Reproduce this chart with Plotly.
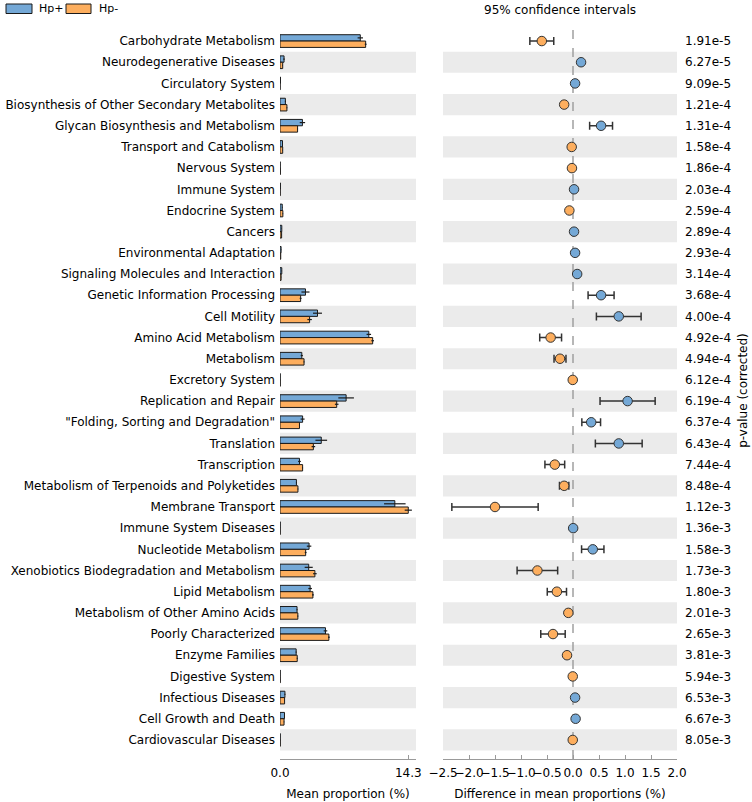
import numpy as np
import plotly.graph_objects as go

categories = [
    "Carbohydrate Metabolism", "Neurodegenerative Diseases", "Circulatory System",
    "Biosynthesis of Other Secondary Metabolites", "Glycan Biosynthesis and Metabolism",
    "Transport and Catabolism", "Nervous System", "Immune System", "Endocrine System",
    "Cancers", "Environmental Adaptation", "Signaling Molecules and Interaction",
    "Genetic Information Processing", "Cell Motility", "Amino Acid Metabolism",
    "Metabolism", "Excretory System", "Replication and Repair",
    "\"Folding, Sorting and Degradation\"", "Translation", "Transcription",
    "Metabolism of Terpenoids and Polyketides", "Membrane Transport",
    "Immune System Diseases", "Nucleotide Metabolism",
    "Xenobiotics Biodegradation and Metabolism", "Lipid Metabolism",
    "Metabolism of Other Amino Acids", "Poorly Characterized", "Enzyme Families",
    "Digestive System", "Infectious Diseases", "Cell Growth and Death",
    "Cardiovascular Diseases",
]
hp_pos_mean = [8.95, 0.45, 0.05, 0.60, 2.50, 0.28, 0.02, 0.04, 0.25, 0.20, 0.12, 0.20,
               2.84, 4.18, 9.90, 2.43, 0.02, 7.37, 2.52, 4.60, 2.17, 1.83, 12.80, 0.02,
               3.24, 3.20, 3.36, 1.90, 5.07, 1.80, 0.02, 0.55, 0.50, 0.02]
hp_neg_mean = [9.55, 0.30, 0.01, 0.77, 1.96, 0.30, 0.04, 0.02, 0.32, 0.18, 0.08, 0.12,
               2.30, 3.30, 10.33, 2.68, 0.025, 6.32, 2.17, 3.72, 2.52, 2.00, 14.30, 0.02,
               2.86, 3.89, 3.67, 1.99, 5.45, 1.92, 0.025, 0.51, 0.45, 0.025]
hp_pos_err = [0.3, 0.08, 0.01, 0.05, 0.3, 0.03, 0.01, 0.01, 0.03, 0.02, 0.02, 0.03,
              0.45, 0.5, 0.25, 0.12, 0.005, 0.87, 0.22, 0.65, 0.15, 0.05, 1.2, 0.005,
              0.25, 0.45, 0.2, 0.05, 0.2, 0.05, 0.005, 0.05, 0.05, 0.005]
hp_neg_err = [0.1, 0.03, 0.005, 0.05, 0.05, 0.03, 0.005, 0.005, 0.03, 0.02, 0.01, 0.02,
              0.1, 0.25, 0.15, 0.05, 0.005, 0.2, 0.05, 0.2, 0.05, 0.05, 0.4, 0.005,
              0.1, 0.2, 0.1, 0.05, 0.1, 0.05, 0.005, 0.03, 0.03, 0.005]
diff_mean = [-0.60, 0.155, 0.04, -0.17, 0.54, -0.025, -0.02, 0.02, -0.07, 0.02, 0.04, 0.08,
             0.54, 0.88, -0.43, -0.25, -0.005, 1.05, 0.35, 0.88, -0.35, -0.17, -1.50, 0.003,
             0.38, -0.685, -0.31, -0.09, -0.385, -0.115, -0.005, 0.04, 0.05, -0.005]
diff_ci = [0.23, 0.02, 0.01, 0.035, 0.22, 0.01, 0.01, 0.01, 0.015, 0.01, 0.01, 0.015,
           0.25, 0.43, 0.21, 0.115, 0.005, 0.53, 0.18, 0.45, 0.19, 0.09, 0.83, 0.005,
           0.215, 0.39, 0.185, 0.03, 0.235, 0.04, 0.005, 0.01, 0.01, 0.005]
p_values = ["1.91e-5", "6.27e-5", "9.09e-5", "1.21e-4", "1.31e-4", "1.58e-4", "1.86e-4",
            "2.03e-4", "2.59e-4", "2.89e-4", "2.93e-4", "3.14e-4", "3.68e-4", "4.00e-4",
            "4.92e-4", "4.94e-4", "6.12e-4", "6.19e-4", "6.37e-4", "6.43e-4", "7.44e-4",
            "8.48e-4", "1.12e-3", "1.36e-3", "1.58e-3", "1.73e-3", "1.80e-3", "2.01e-3",
            "2.65e-3", "3.81e-3", "5.94e-3", "6.53e-3", "6.67e-3", "8.05e-3"]
group_names = ["Hp+", "Hp-"]
left_ticks = [0.0, 14.3]
right_ticks = [-2.5, -2.0, -1.5, -1.0, -0.5, 0.0, 0.5, 1.0, 1.5, 2.0]

BLUE = "#74a8d6"
ORANGE = "#fdae5e"
BAND = "#ebebeb"
AXC = "#9a9a9a"
FONT = "DejaVu Sans"

W, H = 752, 802
T, B = 22, 43
n = len(categories)
idx = list(range(n))

fig = go.Figure()
fig.add_trace(go.Bar(
    y=idx, x=hp_pos_mean, orientation="h", name=group_names[0],
    marker=dict(color=BLUE, line=dict(color="#1a1a1a", width=1)),
    error_x=dict(type="data", array=hp_pos_err, color="#1a1a1a", thickness=1.2, width=0),
    xaxis="x", yaxis="y", showlegend=False))
fig.add_trace(go.Bar(
    y=idx, x=hp_neg_mean, orientation="h", name=group_names[1],
    marker=dict(color=ORANGE, line=dict(color="#1a1a1a", width=1)),
    error_x=dict(type="data", array=hp_neg_err, color="#1a1a1a", thickness=1.2, width=0),
    xaxis="x", yaxis="y", showlegend=False))

colors = [BLUE if d > 0 else ORANGE for d in diff_mean]
fig.add_trace(go.Scatter(
    x=diff_mean, y=idx, mode="markers",
    marker=dict(color=colors, size=9.5, line=dict(color="#333333", width=1)),
    error_x=dict(type="data", array=diff_ci, color="#333333", thickness=1.5, width=4),
    xaxis="x2", yaxis="y2", showlegend=False))

shapes = []
for i in range(1, n, 2):
    for xr in ("x", "x2"):
        shapes.append(dict(type="rect", xref=xr + " domain", yref="y",
                           x0=0, x1=1, y0=i - 0.5, y1=i + 0.5,
                           fillcolor=BAND, line=dict(width=0), layer="below"))
shapes.append(dict(type="line", xref="x2", yref="y domain", x0=0, x1=0, y0=0, y1=1,
                   line=dict(color="#a0a0a0", width=1.5, dash="dash"), layer="below"))

plot_h = H - T - B
def py(px):
    return (H - B - px) / plot_h

# legend patches
shapes.append(dict(type="rect", xref="paper", yref="paper", x0=6 / W, x1=32 / W,
                   y0=py(13.5), y1=py(4), fillcolor=BLUE, line=dict(color="#1a1a1a", width=1)))
shapes.append(dict(type="rect", xref="paper", yref="paper", x0=66 / W, x1=91 / W,
                   y0=py(13.5), y1=py(4), fillcolor=ORANGE, line=dict(color="#1a1a1a", width=1)))

annotations = [
    dict(text=group_names[0], xref="paper", yref="paper", x=37 / W, y=py(9),
         xanchor="left", yanchor="middle", showarrow=False, font=dict(size=11, color="black")),
    dict(text=group_names[1], xref="paper", yref="paper", x=97 / W, y=py(9),
         xanchor="left", yanchor="middle", showarrow=False, font=dict(size=11, color="black")),
    dict(text="95% confidence intervals", xref="paper", yref="paper", x=560 / W, y=py(10),
         xanchor="center", yanchor="middle", showarrow=False, font=dict(size=12, color="black")),
]

yrange = [n - 1 + 0.9, -0.9]

fig.update_layout(
    template="none",
    width=W, height=H,
    margin=dict(l=0, r=0, t=T, b=B, autoexpand=False),
    paper_bgcolor="white", plot_bgcolor="white",
    font=dict(family=FONT, size=12, color="black"),
    barmode="group", bargap=0.4, bargroupgap=0,
    shapes=shapes, annotations=annotations,
    xaxis=dict(domain=[280 / W, 416 / W], range=[0, 15.16], tickvals=left_ticks,
               ticktext=[f"{v:.1f}" for v in left_ticks], ticks="inside", ticklen=4,
               tickcolor=AXC, showline=True, linecolor=AXC, linewidth=1,
               showgrid=False, zeroline=False, anchor="y", automargin=False, tickangle=0,
               ticklabelstandoff=3,
               title=dict(text="Mean proportion (%)", standoff=10, font=dict(size=12)),
               tickfont=dict(size=12)),
    xaxis2=dict(domain=[443 / W, 677 / W], range=[-2.5, 2.0], tickvals=right_ticks,
                ticktext=[f"{v:.1f}".replace("-", "\u2212") for v in right_ticks],
                ticks="inside", ticklen=4, tickcolor=AXC, showline=True, linecolor=AXC,
                linewidth=1, showgrid=False, zeroline=False, anchor="y2",
                automargin=False, tickangle=0, ticklabelstandoff=3,
                title=dict(text="Difference in mean proportions (%)", standoff=10,
                           font=dict(size=12)),
                tickfont=dict(size=12)),
    yaxis=dict(range=yrange, tickvals=idx, ticktext=categories, showgrid=False,
               zeroline=False, showline=False, ticks="", anchor="x", automargin=False,
               ticklabelstandoff=4, tickfont=dict(size=12)),
    yaxis2=dict(range=yrange, tickvals=idx, ticktext=p_values, showgrid=False,
                zeroline=False, showline=False, ticks="", anchor="x2", side="right",
                matches="y", ticklabelstandoff=7, tickfont=dict(size=12), automargin=False,
                title=dict(text="p-value (corrected)", standoff=8, font=dict(size=12))),
)

fig.write_html("out.html", config={"displayModeBar": False},
               post_script="document.body.style.margin='0px';")
